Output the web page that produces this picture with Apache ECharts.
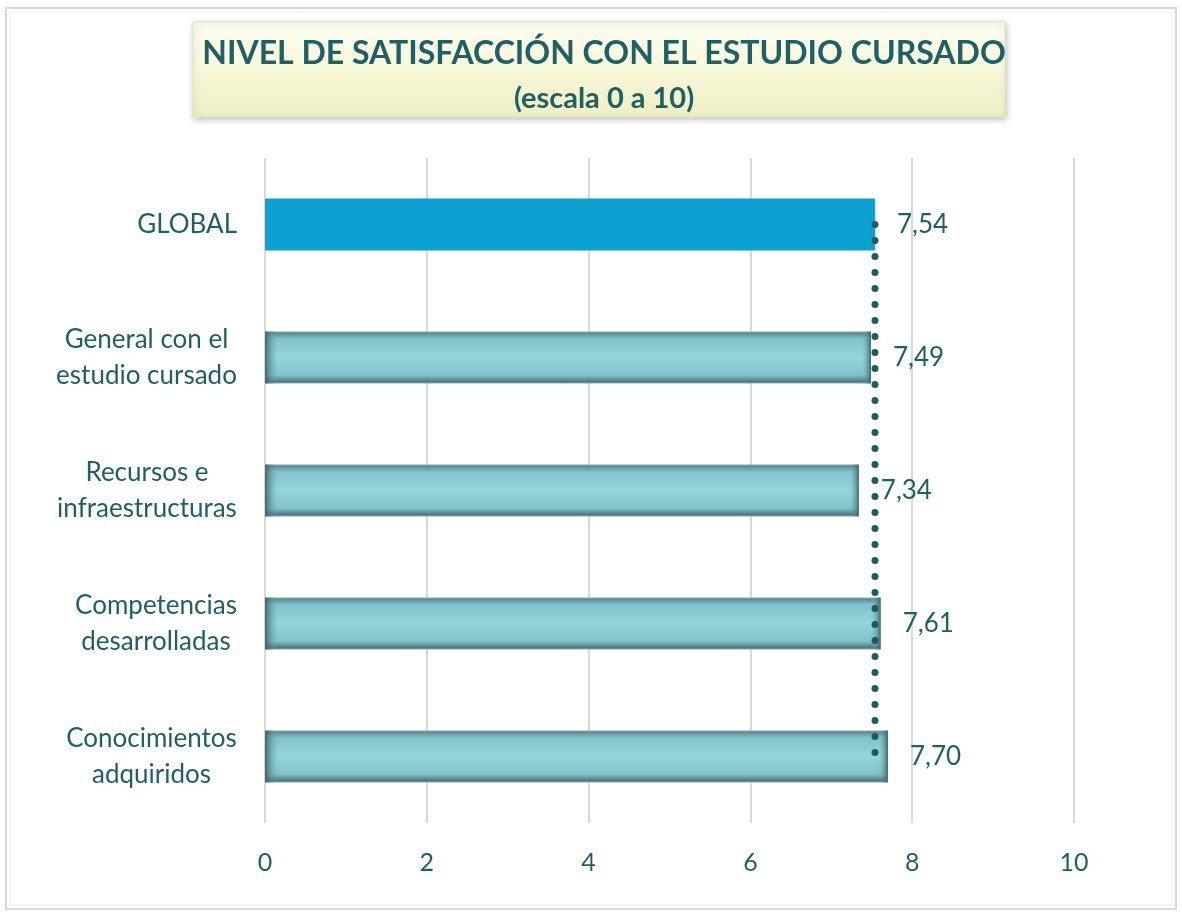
<!DOCTYPE html>
<html>
<head>
<meta charset="utf-8">
<script src="https://cdn.jsdelivr.net/npm/echarts@6/dist/echarts.min.js"></script>
<style>
  html, body { margin: 0; padding: 0; background: #fff; }
  #main { width: 1182px; height: 915px; }
</style>
</head>
<body>
<div id="main"></div>
<script>
// datos
var categorias = ["GLOBAL", "General con el\nestudio cursado", "Recursos e\ninfraestructuras", "Competencias\ndesarrolladas", "Conocimientos\nadquiridos"];
var valores = [7.54, 7.49, 7.34, 7.61, 7.70];
var media = [7.54, 7.54, 7.54, 7.54, 7.54];
var ticks = [0, 2, 4, 6, 8, 10];

var teal = "#1f5f66";
var fuente = "Lato";
var catSize = 26;

// medir el ancho de cada etiqueta para centrar las lineas dentro del bloque
var ctx = document.createElement("canvas").getContext("2d");
ctx.font = catSize + "px " + fuente;
var rich = {};
categorias.forEach(function(c, i) {
  var lines = c.split("\n");
  var w = 0;
  lines.forEach(function(l) { w = Math.max(w, ctx.measureText(l).width); });
  rich["c" + i] = { width: Math.ceil(w), align: lines.length > 1 ? "center" : "right",
    color: teal, fontSize: catSize, fontFamily: fuente, lineHeight: 36 };
});

var myChart = echarts.init(document.getElementById("main"));

myChart.setOption({
  backgroundColor: "#fff",
  animation: false,
  graphic: [
    { type: "rect", z: -10, shape: { x: 6, y: 8, width: 1170, height: 901 },
      style: { fill: "#fff", stroke: "#d9d9d9", lineWidth: 2 } },
    { type: "rect", z: -9, shape: { x: 10, y: 12, width: 1162, height: 893 },
      style: { fill: "none", stroke: "#eeeeee", lineWidth: 1 } },
    { type: "rect", z: -5, shape: { x: 193, y: 22, width: 812, height: 95 },
      style: {
        fill: { type: "linear", x: 0, y: 0, x2: 0, y2: 1, colorStops: [
          { offset: 0, color: "#fdfdf0" }, { offset: 0.5, color: "#f8f8da" }, { offset: 1, color: "#eeeec4" }] },
        stroke: "#e6e6c8", lineWidth: 1,
        shadowBlur: 6, shadowColor: "rgba(0,0,0,0.25)", shadowOffsetX: 1, shadowOffsetY: 2
      } }
  ],
  title: [
    { text: "NIVEL DE SATISFACCIÓN CON EL ESTUDIO CURSADO", left: 599, top: 33, textAlign: "center",
      textStyle: { color: teal, fontSize: 32, fontWeight: "bold", fontFamily: fuente } },
    { text: "(escala 0 a 10)", left: 599, top: 79, textAlign: "center",
      textStyle: { color: teal, fontSize: 29, fontWeight: "bold", fontFamily: fuente } }
  ],
  grid: { left: 265, right: 108, top: 158, bottom: 92 },
  xAxis: {
    type: "value", min: ticks[0], max: ticks[ticks.length - 1], interval: 2,
    axisLine: { show: false }, axisTick: { show: false },
    splitLine: { lineStyle: { color: "#d9d9d9", width: 2 } },
    axisLabel: { color: teal, fontSize: 25, fontFamily: fuente, margin: 27 }
  },
  yAxis: {
    type: "category", inverse: true, data: categorias,
    axisLine: { show: false }, axisTick: { show: false },
    axisLabel: {
      margin: 28, align: "right", rich: rich,
      formatter: function(v, i) {
        return v.split("\n").map(function(l) { return "{c" + i + "|" + l + "}"; }).join("\n");
      }
    }
  },
  series: [
    {
      type: "bar", barWidth: 52, z: 2,
      data: valores.map(function(v, i) {
        if (i === 0) return { value: v, itemStyle: { color: "#0ba1d1", borderColor: "#0ba1d1" } };
        return v;
      }),
      itemStyle: {
        color: { type: "linear", x: 0, y: 0, x2: 0, y2: 1, colorStops: [
          { offset: 0, color: "#4d7d82" }, { offset: 0.14, color: "#82c2cb" },
          { offset: 0.5, color: "#93d4dd" }, { offset: 0.84, color: "#82c2cb" },
          { offset: 1, color: "#3b666b" }] },
        borderColor: "#8aa9ad", borderWidth: 1
      },
      label: {
        show: true, position: "right", distance: 22, color: teal, fontSize: 26, fontFamily: fuente,
        formatter: function(p) { return p.value.toFixed(2).replace(".", ","); }
      }
    },
    {
      // bordes laterales oscuros
      type: "bar", barWidth: 52, barGap: "-100%", z: 3, silent: true,
      data: valores.map(function(v, i) {
        return i === 0 ? { value: v, itemStyle: { color: "rgba(0,0,0,0)" } } : v;
      }),
      itemStyle: {
        color: { type: "linear", x: 0, y: 0, x2: 1, y2: 0, colorStops: [
          { offset: 0, color: "rgba(50,90,95,0.85)" }, { offset: 0.022, color: "rgba(120,180,190,0)" },
          { offset: 0.985, color: "rgba(120,180,190,0)" }, { offset: 1, color: "rgba(50,90,95,0.85)" }] }
      }
    },
    {
      type: "line", data: media, z: 5, symbol: "none", silent: true,
      lineStyle: { color: "#1e5a62", width: 7, type: [0, 16], cap: "round" }
    }
  ]
});
</script>
</body>
</html>
